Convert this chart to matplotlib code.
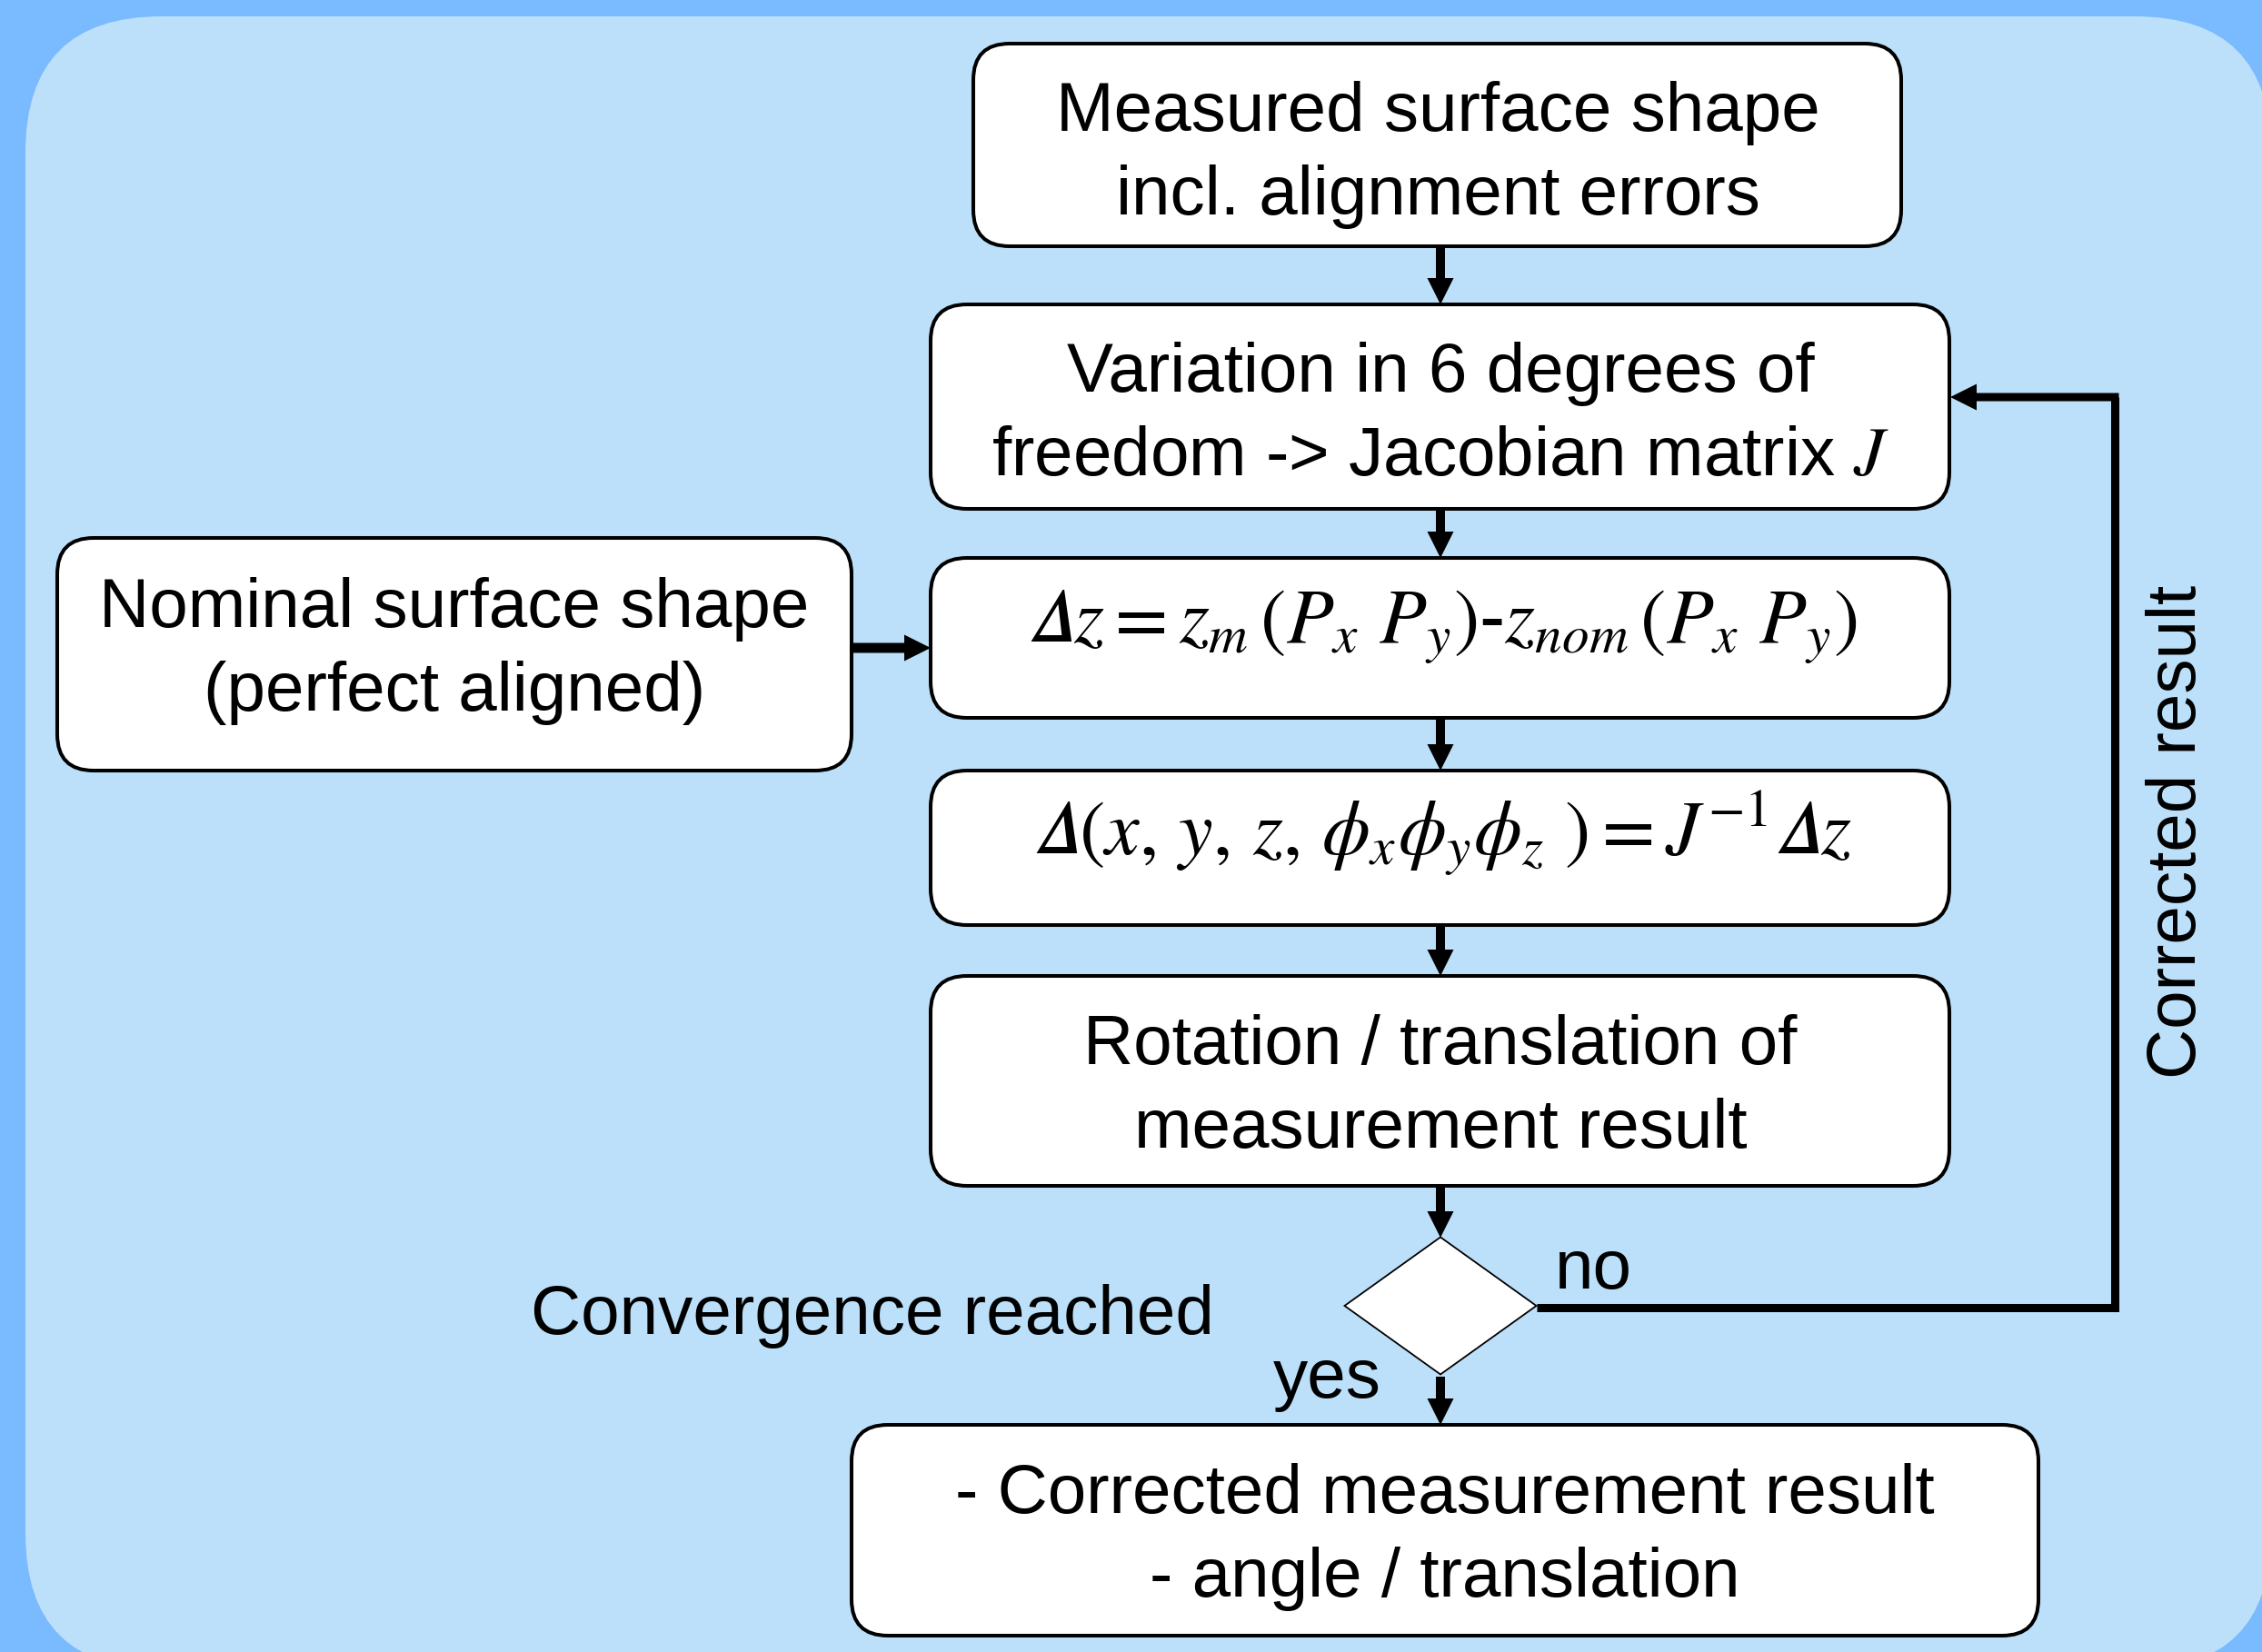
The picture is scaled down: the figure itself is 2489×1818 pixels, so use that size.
import matplotlib
matplotlib.use('Agg')
import matplotlib.pyplot as plt
from matplotlib.patches import FancyBboxPatch, Polygon, FancyArrow
from matplotlib.lines import Line2D

plt.rcParams['font.family'] = ['Liberation Sans', 'DejaVu Sans']
plt.rcParams['mathtext.fontset'] = 'stix'

# ---------------- content ----------------
box_labels = [
    ["Measured surface shape", "incl. alignment errors"],
    ["Variation in 6 degrees of", "freedom -> Jacobian matrix $J$"],
    ["$\U0001D6E5z = z_m\\,(P_x\\ P_y)$-$z_{nom}\\,(P_x\\ P_y)$"],
    ["$\U0001D6E5(x,\\,y,\\,z,\\,\\phi_x\\phi_y\\phi_z\\ ) = J^{-1}\U0001D6E5z$"],
    ["Rotation / translation of", "measurement result"],
    ["- Corrected measurement result", "- angle / translation"],
    ["Nominal surface shape", "(perfect aligned)"],
]
decision_label = "Convergence reached"
yes_label = "yes"
no_label = "no"
loop_label = "Corrected result"

# ---------------- layout (pixels) ----------------
W, H = 2489, 1818
box_rects = [  # x0, y0, x1, y1
    (1071, 48, 2092, 271),
    (1024, 335, 2145, 560),
    (1024, 614, 2145, 790),
    (1024, 848, 2145, 1018),
    (1024, 1074, 2145, 1305),
    (937, 1568, 2243, 1800),
    (63, 592, 937, 848),
]
box_baselines = [
    [144, 236],
    [431, 523],
    [707],
    [940],
    [1171, 1263],
    [1665, 1757],
    [690, 782],
]
text_cx = [1582, 1585, 1587, 1588, 1585, 1590, 500]
fs_text = 55
fs_math = 61

fig = plt.figure(figsize=(W / 100, H / 100), dpi=100)
fig.patch.set_facecolor('#7ABAFF')
ax = fig.add_axes([0, 0, 1, 1])
ax.set_xlim(0, W)
ax.set_ylim(H, 0)
ax.axis('off')

# inner light panel
ax.add_patch(FancyBboxPatch((28, 18), 2499 - 28, 1837 - 18,
                            boxstyle="round,pad=0,rounding_size=150",
                            fc='#BCE0F9', ec='none', zorder=0))

for rect, lines, bls, cx in zip(box_rects, box_labels, box_baselines, text_cx):
    x0, y0, x1, y1 = rect
    ax.add_patch(FancyBboxPatch((x0, y0), x1 - x0, y1 - y0,
                                boxstyle="round,pad=0,rounding_size=40",
                                fc='white', ec='black', lw=2.9, zorder=2))
    for line, bl in zip(lines, bls):
        fs = fs_math if line.startswith('$') else fs_text
        ax.text(cx, bl, line, ha='center', va='baseline', fontsize=fs,
                color='black', zorder=3)

# decision diamond
dcx, dcy, dhw, dhh = 1585, 1437, 105.5, 75.5
ax.add_patch(Polygon([(dcx, dcy - dhh), (dcx + dhw, dcy), (dcx, dcy + dhh), (dcx - dhw, dcy)],
                     closed=True, fc='white', ec='black', lw=1.3, zorder=2))

def varrow(x, y0, y1, w=10):
    ax.add_patch(FancyArrow(x, y0, 0, y1 - y0, width=w, head_width=29, head_length=29,
                            length_includes_head=True, fc='black', ec='none', zorder=4))

def harrow(y, x0, x1, w=10):
    ax.add_patch(FancyArrow(x0, y, x1 - x0, 0, width=w, head_width=29, head_length=29,
                            length_includes_head=True, fc='black', ec='none', zorder=4))

varrow(1585, 273, 335)
varrow(1585, 562, 614)
varrow(1585, 792, 848)
varrow(1585, 1020, 1074)
varrow(1585, 1307, 1362)
varrow(1585, 1515, 1568)
harrow(713, 939, 1024, w=11)

# feedback loop
ax.add_line(Line2D([dcx + dhw, 2327, 2327], [1439, 1439, 437], lw=6.5, color='black',
                   solid_joinstyle='miter', solid_capstyle='butt', zorder=4))
harrow(437, 2331.5, 2146, w=9)

ax.text(960, 1468, decision_label, ha='center', va='baseline', fontsize=fs_text)
ax.text(1753, 1418, no_label, ha='center', va='baseline', fontsize=fs_text)
ax.text(1460, 1538, yes_label, ha='center', va='baseline', fontsize=fs_text)
ax.text(2416, 915, loop_label, ha='center', va='baseline', rotation=90,
        rotation_mode='anchor', fontsize=fs_text)

fig.savefig('out.png', dpi=100, facecolor=fig.get_facecolor())
